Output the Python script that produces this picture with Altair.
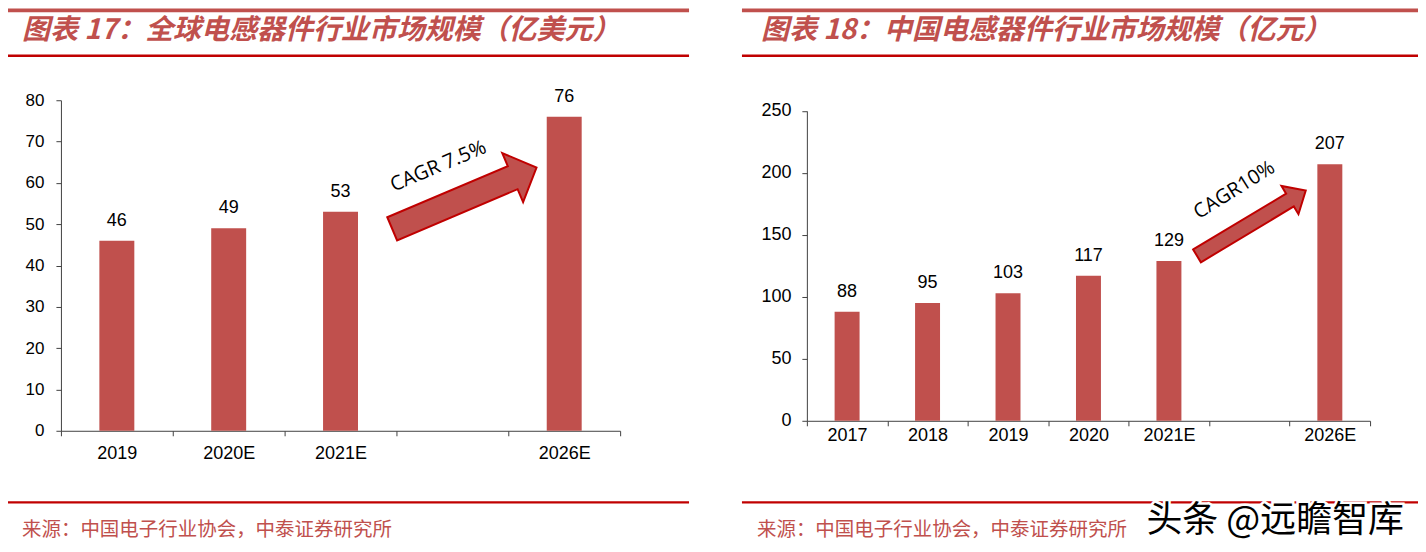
import altair as alt
import pandas as pd

# ---------------- data ----------------
left_categories = ["2019", "2020E", "2021E", " ", "2026E"]
left_years = ["2019", "2020E", "2021E", "2026E"]
left_values = [46, 49, 53, 76]
left_ticks = [0, 10, 20, 30, 40, 50, 60, 70, 80]
left_title = "图表 17：全球电感器件行业市场规模（亿美元）"
left_cagr = "CAGR 7.5%"
left_arrow_at = [" ", 56.3]      # category, value (annotation anchor)
left_cagr_at = [" ", 64.0]

right_categories = ["2017", "2018", "2019", "2020", "2021E", " ", "2026E"]
right_years = ["2017", "2018", "2019", "2020", "2021E", "2026E"]
right_values = [88, 95, 103, 117, 129, 207]
right_ticks = [0, 50, 100, 150, 200, 250]
right_title = "图表 18：中国电感器件行业市场规模（亿元）"
right_cagr = "CAGR10%"
right_arrow_at = [" ", 159.4]
right_cagr_at = [" ", 186.1]

source_text = "来源：中国电子行业协会，中泰证券研究所"
watermark_text = "头条 @远瞻智库"

# ---------------- styles ----------------
RED = "#C0504D"
DARK_RED = "#C00000"
AXIS = "#404040"
CJK = "Noto Sans CJK SC"
NUM = "Liberation Sans"

LEFT_ARROW = "M -1 -0.16 L 0.67 -0.16 L 0.67 -0.34 L 1 0 L 0.67 0.34 L 0.67 0.16 L -1 0.16 Z"
RIGHT_ARROW = "M -1 -0.118 L 0.71 -0.118 L 0.71 -0.26 L 1 0 L 0.71 0.26 L 0.71 0.118 L -1 0.118 Z"


def band(one, x0, x1, y0, y1, color):
    return alt.Chart(one).mark_rect(color=color, strokeWidth=0).encode(
        x=alt.value(x0), x2=alt.value(x1), y=alt.value(y0), y2=alt.value(y1))


def decorations(x0, x1, title, title_x, src_x):
    one = pd.DataFrame({"t": [title]})
    top_line = band(one, x0, x1, -92, -88, RED)
    under_line = band(one, x0, x1, -45.7, -43.3, DARK_RED)
    bottom_line = band(one, x0, x1, 401.5, 403.7, DARK_RED)
    title_mark = alt.Chart(one).mark_text(
        align="left", baseline="middle", font=CJK, fontSize=28, fontStyle="italic",
        fontWeight="bold", color=RED).encode(x=alt.value(title_x), y=alt.value(-69), text="t:N")
    src = alt.Chart(pd.DataFrame({"t": [source_text]})).mark_text(
        align="left", baseline="middle", font=CJK, fontSize=19.5, color=RED
    ).encode(x=alt.value(src_x), y=alt.value(430), text="t:N")
    return [top_line, under_line, bottom_line, title_mark, src]


def panel(categories, years, values, width, height, yrange, ydomain, yticks,
          bar_size, ylab_size, ylab_pad, xlab_pad,
          arrow_shape, arrow_size, arrow_angle, arrow_at, arrow_dx,
          cagr, cagr_at, cagr_dx, cagr_angle,
          x0, x1, title, title_x, src_x):
    x_enc = alt.X("year:N", sort=categories,
                  scale=alt.Scale(domain=categories, paddingInner=0, paddingOuter=0),
                  axis=alt.Axis(title=None, labelAngle=0, tickBand="extent",
                                labelFont=NUM, labelFontSize=18, labelColor="black",
                                labelPadding=xlab_pad, tickSize=5, tickColor=AXIS,
                                domainColor=AXIS, grid=False))
    y_enc = alt.Y("value:Q",
                  scale=alt.Scale(domain=ydomain, range=yrange, nice=False, zero=True),
                  axis=alt.Axis(title=None, values=yticks, labelFont=NUM,
                                labelFontSize=ylab_size, labelColor="black",
                                labelPadding=ylab_pad, tickSize=5, tickColor=AXIS,
                                domainColor=AXIS, grid=False))
    df = pd.DataFrame({"year": years, "value": values})
    bars = alt.Chart(df).mark_bar(size=bar_size, color=RED).encode(x=x_enc, y=y_enc)
    labels = alt.Chart(df).mark_text(
        dy=-15, baseline="alphabetic", font=NUM, fontSize=18, color="black"
    ).encode(x=x_enc, y=y_enc, text="value:Q")
    arrow_df = pd.DataFrame({"year": [arrow_at[0]], "value": [arrow_at[1]]})
    arrow = alt.Chart(arrow_df).mark_point(
        shape=arrow_shape, size=arrow_size, angle=arrow_angle, filled=True,
        fill=RED, stroke=DARK_RED, strokeWidth=2, opacity=1, xOffset=arrow_dx
    ).encode(x=x_enc, y=y_enc)
    cagr_df = pd.DataFrame({"year": [cagr_at[0]], "value": [cagr_at[1]], "t": [cagr]})
    cagr_mark = alt.Chart(cagr_df).mark_text(
        angle=cagr_angle, font="Open Sans", fontSize=20, color="black",
        align="center", baseline="middle", xOffset=cagr_dx
    ).encode(x=x_enc, y=y_enc, text="t:N")
    layers = [bars, labels, arrow, cagr_mark] + decorations(x0, x1, title, title_x, src_x)
    return alt.layer(*layers).properties(width=width, height=height)


left = panel(left_categories, left_years, left_values, 560, 331, [331, 0], [0, 80],
             left_ticks, 35, 17, 12, 9,
             LEFT_ARROW, 24650, 337, left_arrow_at, 12,
             left_cagr, left_cagr_at, -14, 337,
             -53, 629, left_title, -39, -39)

right_base = panel(right_categories, right_years, right_values, 564, 321, [321, 10.7],
                   [0, 250], right_ticks, 25, 18, 11, 1,
                   RIGHT_ARROW, 16130, 329, right_arrow_at, 2,
                   right_cagr, right_cagr_at, -15, 328,
                   -65, 612, right_title, -46, -50)

wm = pd.DataFrame({"t": [watermark_text]})
wm_halo = alt.Chart(wm).mark_text(
    align="left", baseline="middle", font=CJK, fontSize=36, color="black",
    stroke="white", strokeWidth=5
).encode(x=alt.value(340), y=alt.value(421), text="t:N")
wm_text = alt.Chart(wm).mark_text(
    align="left", baseline="middle", font=CJK, fontSize=36, color="black"
).encode(x=alt.value(340), y=alt.value(421), text="t:N")

right = alt.layer(right_base, wm_halo, wm_text)

chart = alt.hconcat(left, right, spacing=53).properties(
    padding={"left": 0, "top": 0, "right": 0, "bottom": 4}, background="white"
).configure_view(stroke=None)

chart.save("out.html", embed_options={"renderer": "svg", "actions": False})
